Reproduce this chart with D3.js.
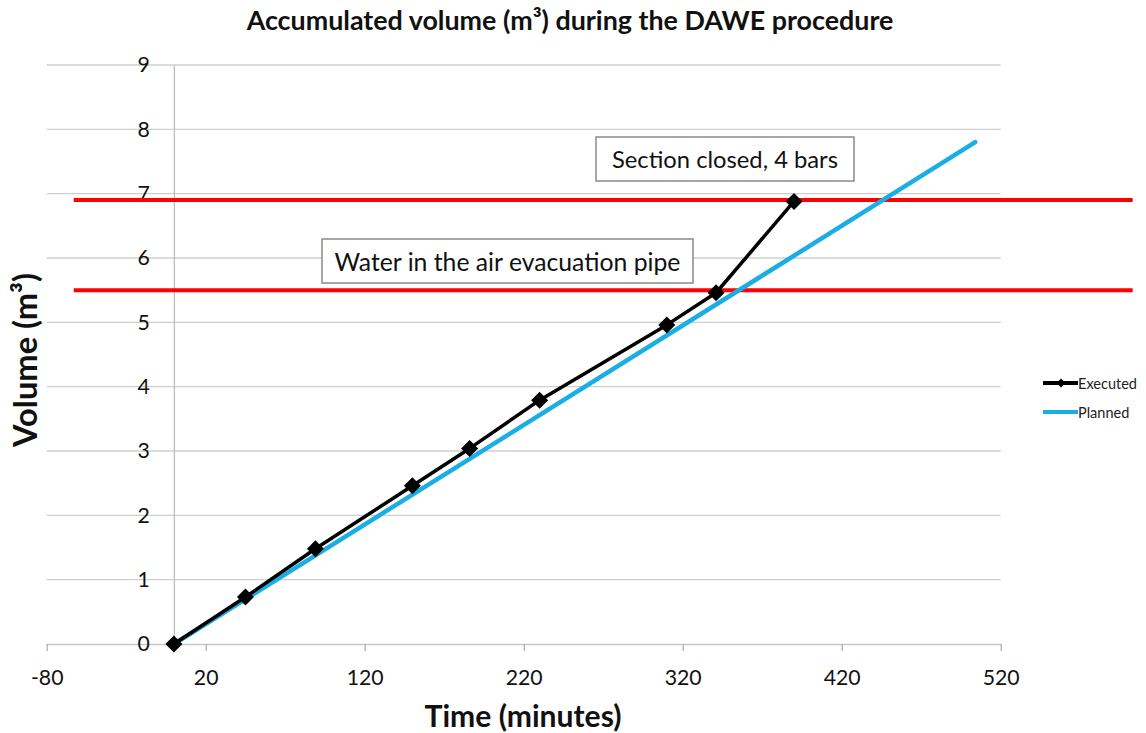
<!DOCTYPE html>
<html><head><meta charset="utf-8">
<script src="https://cdn.jsdelivr.net/npm/d3@7"></script>
<style>body{margin:0;background:#fff;} svg{display:block;font-family:Lato,"Open Sans",sans-serif;}</style>
</head><body><svg id="chart" width="1146" height="733"></svg>
<script>
// ---- data ----
const chartTitle = "Accumulated volume (m³) during the DAWE procedure";
const xAxisTitle = "Time (minutes)";
const yAxisTitle = "Volume (m³)";
const xTicks = [-80, 20, 120, 220, 320, 420, 520];
const yTicks = [0, 1, 2, 3, 4, 5, 6, 7, 8, 9];
const seriesNames = ["Executed", "Planned"];
const executedTime = [0, 45, 89, 150, 186, 230, 310, 341, 390];
const executedVolume = [0, 0.73, 1.48, 2.46, 3.04, 3.79, 4.96, 5.46, 6.88];
const plannedTime = [0, 504];
const plannedVolume = [0, 7.8];
const thresholdVolume = [6.9, 5.5];
const thresholdTimeSpan = [-63, 603];
const annotationText = ["Section closed, 4 bars", "Water in the air evacuation pipe"];

// ---- drawing ----
const svg = d3.select("#chart");
const x = d3.scaleLinear().domain([-80, 520]).range([46.7, 1000.7]);
const y = d3.scaleLinear().domain([0, 9]).range([644, 65]);

function fit(sel, w) {
  const len = sel.node().getComputedTextLength();
  const fs = parseFloat(sel.attr("font-size"));
  sel.attr("font-size", fs * w / len);
  return fs * w / len;
}

// gridlines
svg.append("g").selectAll("line").data(yTicks.filter(d => d > 0)).join("line")
  .attr("x1", x(-80)).attr("x2", x(520))
  .attr("y1", d => y(d)).attr("y2", d => y(d))
  .attr("stroke", "#cfcfcf").attr("stroke-width", 1.3);

// x axis
const xAxis = svg.append("g").attr("transform", `translate(0,${y(0)})`)
  .call(d3.axisBottom(x).tickValues(xTicks).tickSize(7).tickSizeOuter(0).tickFormat(d => String(d)));
xAxis.select(".domain").attr("stroke", "#c8c8c8").attr("stroke-width", 1.5);
xAxis.selectAll(".tick line").attr("stroke", "#b0b0b0").attr("stroke-width", 1.3);
xAxis.selectAll(".tick text").attr("font-family", "Lato").attr("font-size", 22)
  .attr("fill", "#111").attr("dy", null).attr("y", 41);
// y axis at x = 0
const yAxis = svg.append("g").attr("transform", `translate(${x(0)},0)`)
  .call(d3.axisLeft(y).tickValues(yTicks).tickSize(0).tickPadding(24).tickFormat(d => String(d)));
yAxis.select(".domain").attr("stroke", "#bdbdbd").attr("stroke-width", 1.3);
yAxis.selectAll(".tick text").attr("font-family", "Lato").attr("font-size", 22).attr("fill", "#111");

// size tick labels by width of "520"
const sample = xAxis.selectAll(".tick text").filter(d => d === 520);
const tfs = fit(sample, 37);
xAxis.selectAll(".tick text").attr("font-size", tfs);
yAxis.selectAll(".tick text").attr("font-size", tfs);

// red threshold lines
svg.append("g").selectAll("line").data(thresholdVolume).join("line")
  .attr("x1", x(thresholdTimeSpan[0])).attr("x2", x(thresholdTimeSpan[1]))
  .attr("y1", d => y(d)).attr("y2", d => y(d))
  .attr("stroke", "#ff0000").attr("stroke-width", 4);

// annotation boxes
const boxes = [
  {text: annotationText[0], x0: 596, x1: 854, y0: 137, y1: 181, tw: 226},
  {text: annotationText[1], x0: 322, x1: 693, y0: 239, y1: 283, tw: 346}
];
boxes.forEach(b => {
  svg.append("rect").attr("x", b.x0).attr("y", b.y0).attr("width", b.x1 - b.x0).attr("height", b.y1 - b.y0)
    .attr("fill", "#fff").attr("stroke", "#8a8a8a").attr("stroke-width", 1.5);
  const t = svg.append("text").attr("x", (b.x0 + b.x1) / 2).attr("y", (b.y0 + b.y1) / 2)
    .attr("text-anchor", "middle").attr("dominant-baseline", "central")
    .attr("font-size", 20).attr("fill", "#111").text(b.text);
  fit(t, b.tw);
});

// planned line
const plannedData = plannedTime.map((t, i) => [t, plannedVolume[i]]);
const executedData = executedTime.map((t, i) => [t, executedVolume[i]]);
const line = d3.line().x(d => x(d[0])).y(d => y(d[1]));
svg.append("path").datum(plannedData).attr("d", line)
  .attr("fill", "none").attr("stroke", "#1aaee5").attr("stroke-width", 4.5).attr("stroke-linecap", "round");
svg.append("path").datum(executedData).attr("d", line)
  .attr("fill", "none").attr("stroke", "#000").attr("stroke-width", 3.5).attr("stroke-linejoin", "round");
const diamond = r => `M0,${-r}L${r},0L0,${r}L${-r},0Z`;
svg.append("g").selectAll("path").data(executedData).join("path")
  .attr("transform", d => `translate(${x(d[0])},${y(d[1])})`)
  .attr("d", diamond(8.5)).attr("fill", "#000");

// titles
const title = svg.append("text").attr("x", 570).attr("y", 30).attr("text-anchor", "middle")
  .attr("font-weight", "bold").attr("font-size", 22).attr("fill", "#111").text(chartTitle);
fit(title, 647);
const xt2 = svg.append("text").attr("x", 523).attr("y", 727).attr("text-anchor", "middle")
  .attr("font-weight", "bold").attr("font-size", 26).attr("fill", "#111").text(xAxisTitle);
fit(xt2, 197);
const yt2 = svg.append("text").attr("transform", "translate(37,360) rotate(-90)").attr("text-anchor", "middle")
  .attr("font-weight", "bold").attr("font-size", 26).attr("fill", "#111").text(yAxisTitle);
fit(yt2, 174);

// legend
const legend = svg.append("g");
const legendColors = ["#000", "#1aaee5"];
seriesNames.forEach((name, i) => {
  const ly = 383 + i * 29;
  legend.append("line").attr("x1", 1043).attr("x2", 1078).attr("y1", ly).attr("y2", ly)
    .attr("stroke", legendColors[i]).attr("stroke-width", 4);
  if (i === 0) legend.append("path").attr("transform", `translate(1061,${ly})`).attr("d", diamond(4.5)).attr("fill", "#000");
  const t = legend.append("text").attr("x", 1078).attr("y", ly).attr("dominant-baseline", "central")
    .attr("font-size", 14).attr("fill", "#222").text(name);
  if (i === 0) fit(t, 59);
});
const lfs = legend.select("text").attr("font-size");
legend.selectAll("text").attr("font-size", lfs);
</script></body></html>
